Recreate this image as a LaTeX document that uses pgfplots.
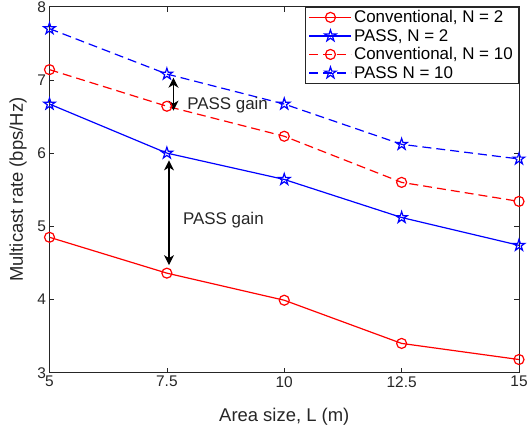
\documentclass[border=0pt]{standalone}
\usepackage{fontspec}
\setmainfont{Liberation Sans}
\usepackage{pgfplots}
\pgfplotsset{compat=1.18}
\usetikzlibrary{arrows.meta}

\definecolor{axgray}{rgb}{0.15,0.15,0.15}

% open pentagram marker, like MATLAB's 'p'
\pgfdeclareplotmark{pent}{%
  \pgfpathmoveto{\pgfpointpolar{90}{\pgfplotmarksize}}%
  \pgfpathlineto{\pgfpointpolar{126}{0.382\pgfplotmarksize}}%
  \pgfpathlineto{\pgfpointpolar{162}{\pgfplotmarksize}}%
  \pgfpathlineto{\pgfpointpolar{198}{0.382\pgfplotmarksize}}%
  \pgfpathlineto{\pgfpointpolar{234}{\pgfplotmarksize}}%
  \pgfpathlineto{\pgfpointpolar{270}{0.382\pgfplotmarksize}}%
  \pgfpathlineto{\pgfpointpolar{306}{\pgfplotmarksize}}%
  \pgfpathlineto{\pgfpointpolar{342}{0.382\pgfplotmarksize}}%
  \pgfpathlineto{\pgfpointpolar{18}{\pgfplotmarksize}}%
  \pgfpathlineto{\pgfpointpolar{54}{0.382\pgfplotmarksize}}%
  \pgfpathclose
  \pgfusepathqstroke
}

\begin{document}
\begin{tikzpicture}
\begin{axis}[
    scale only axis,
    width=469.5bp, height=366bp,
    xmin=5, xmax=15, ymin=3, ymax=8,
    xtick={5,7.5,10,12.5,15},
    ytick={3,4,5,6,7,8},
    axis line style={axgray, line width=0.6bp},
    tick align=inside,
    major tick length=5bp,
    tick style={axgray, line width=0.6bp},
    /pgf/number format/assume math mode=true,
    ticklabel style={text=axgray, font=\fontsize{15.5}{18}\selectfont},
    xlabel={Area size, L (m)},
    ylabel={Multicast rate (bps/Hz)},
    xlabel style={at={(axis description cs:0.5,-0.120)}, anchor=center, text=axgray,
        font=\fontsize{18.5}{22}\selectfont},
    ylabel style={at={(axis description cs:-0.067,0.5)}, anchor=center, text=axgray,
        font=\fontsize{18.5}{22}\selectfont},
    legend style={at={(rel axis cs:1,1)}, anchor=north east,
        draw=axgray, fill=white, line width=0.6bp, cells={anchor=west},
        font=\fontsize{17}{20}\selectfont, inner xsep=4bp, inner ysep=1.5bp, row sep=1bp},
    legend image code/.code={%
        \draw[mark repeat=2,mark phase=2] plot coordinates {(0bp,0bp) (21bp,0bp) (42bp,0bp)};},
]
\addplot[red, line width=1.2bp, mark=o, mark size=5bp, mark options={solid}] coordinates {
(5,4.85) (7.5,4.36) (10,3.99) (12.5,3.40) (15,3.18)
};
\addlegendentry{Conventional, N = 2}
\addplot[blue, line width=1.2bp, mark=pent, mark size=6bp, mark options={solid}] coordinates {
(5,6.67) (7.5,6.00) (10,5.64) (12.5,5.12) (15,4.74)
};
\addlegendentry{PASS, N = 2}
\addplot[red, line width=1.2bp, dash pattern=on 9bp off 5bp, mark=o, mark size=5bp, mark options={solid}] coordinates {
(5,7.14) (7.5,6.64) (10,6.23) (12.5,5.60) (15,5.34)
};
\addlegendentry{Conventional, N = 10}
\addplot[blue, line width=1.2bp, dash pattern=on 9bp off 5bp, mark=pent, mark size=6bp, mark options={solid}] coordinates {
(5,7.70) (7.5,7.08) (10,6.67) (12.5,6.12) (15,5.92)
};
\addlegendentry{PASS N = 10}

\draw[black, line width=1.1bp, {Stealth[length=10bp,width=10bp,inset=3bp]}-{Stealth[length=10bp,width=10bp,inset=3bp]}]
    (axis cs:7.64,7.03) -- (axis cs:7.64,6.58);
\draw[black, line width=1.1bp, {Stealth[length=10bp,width=10bp,inset=3bp]}-{Stealth[length=10bp,width=10bp,inset=3bp]}]
    (axis cs:7.545,5.90) -- (axis cs:7.545,4.47);
\node[anchor=west, inner sep=0pt, text=axgray, font=\fontsize{17}{20}\selectfont] at (axis cs:7.93,6.66) {PASS gain};
\node[anchor=west, inner sep=0pt, text=axgray, font=\fontsize{17}{20}\selectfont] at (axis cs:7.84,5.08) {PASS gain};

\coordinate (O) at (rel axis cs:0,0);
\end{axis}
\pgfresetboundingbox
\useasboundingbox ([shift={(-49.5bp,-56.3bp)}]O) rectangle ([shift={(478.5bp,372.7bp)}]O);
\end{tikzpicture}
\end{document}
